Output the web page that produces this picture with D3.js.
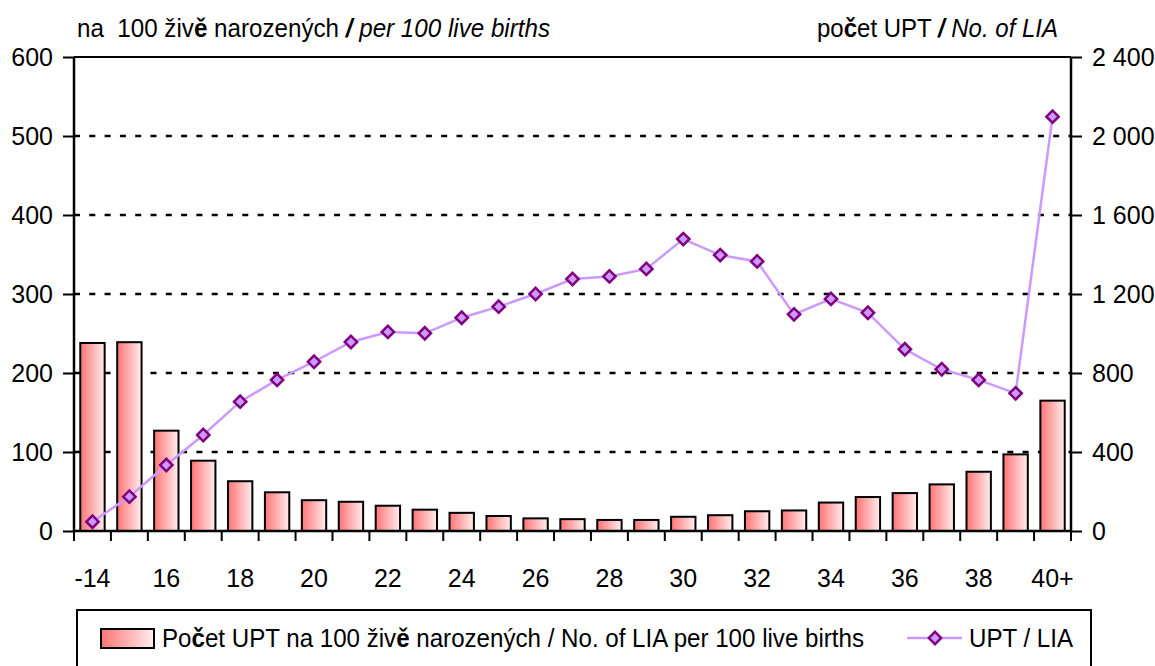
<!DOCTYPE html>
<html>
<head>
<meta charset="utf-8">
<script src="https://cdn.jsdelivr.net/npm/d3@7"></script>
<style>
  body { margin: 0; background: #fff; }
  svg { display: block; }
  text { font-family: "Liberation Sans Narrow", "Arial Narrow", "Liberation Sans", sans-serif; fill: #000; }
</style>
</head>
<body>
<svg id="chart" width="1155" height="666"></svg>
<script>
// vekove skupiny / age groups
var ages = ["-14", "15", "16", "17", "18", "19", "20", "21", "22", "23", "24", "25", "26", "27",
  "28", "29", "30", "31", "32", "33", "34", "35", "36", "37", "38", "39", "40+"];
// UPT na 100 zive narozenych / LIA per 100 live births
var perBirths = [238, 239, 127, 89, 63, 49, 39, 37, 32, 27, 23, 19, 16, 15,
  14, 14, 18, 20, 25, 26, 36, 43, 48, 59, 75, 97, 165];
// pocet UPT / No. of LIA
var counts = [47, 174, 334, 486, 655, 765, 857, 957, 1008, 1001, 1080, 1136, 1200, 1276,
  1289, 1327, 1478, 1397, 1365, 1097, 1175, 1105, 920, 819, 765, 697, 2098];
var leftTicks = [0, 100, 200, 300, 400, 500, 600];
var rightTicks = [0, 400, 800, 1200, 1600, 2000, 2400];

var svg = d3.select("#chart");
var pLeft = 74, pRight = 1071, pTop = 57, pBottom = 531;
var fs = 25;

var x = d3.scaleBand().domain(ages).range([pLeft, pRight]).paddingInner(0.34).paddingOuter(0.17);
var xb = d3.scaleLinear().domain([0, ages.length]).range([pLeft, pRight]);
var yL = d3.scaleLinear().domain([0, 600]).range([pBottom, pTop]);
var yR = d3.scaleLinear().domain([0, 2400]).range([pBottom, pTop]);

var defs = svg.append("defs");
var grad = defs.append("linearGradient").attr("id", "barGrad")
  .attr("x1", "0%").attr("x2", "100%").attr("y1", "0%").attr("y2", "0%");
grad.append("stop").attr("offset", "0%").attr("stop-color", "#ff7474");
grad.append("stop").attr("offset", "100%").attr("stop-color", "#ffeeee");

// mrizka
svg.append("g")
  .selectAll("line")
  .data(leftTicks.filter(function (d) { return d > 0 && d < 600; }))
  .join("line")
  .attr("x1", pLeft).attr("x2", pRight)
  .attr("y1", function (d) { return yL(d); }).attr("y2", function (d) { return yL(d); })
  .attr("stroke", "#000").attr("stroke-width", 2.5).attr("stroke-dasharray", "6,9.3");
svg.append("line").attr("x1", pLeft).attr("x2", pRight).attr("y1", pTop).attr("y2", pTop)
  .attr("stroke", "#000").attr("stroke-width", 2);

// sloupce
svg.append("g")
  .selectAll("rect")
  .data(perBirths)
  .join("rect")
  .attr("x", function (d, i) { return x(ages[i]); })
  .attr("width", x.bandwidth())
  .attr("y", function (d) { return yL(d); })
  .attr("height", function (d) { return pBottom - yL(d); })
  .attr("fill", "url(#barGrad)")
  .attr("stroke", "#000").attr("stroke-width", 2);

// osy
var axisL = svg.append("g").attr("transform", "translate(" + pLeft + ",0)")
  .call(d3.axisLeft(yL).tickValues(leftTicks).tickSize(11).tickPadding(10));
var axisR = svg.append("g").attr("transform", "translate(" + pRight + ",0)")
  .call(d3.axisRight(yR).tickValues(rightTicks).tickSize(11).tickPadding(10)
    .tickFormat(function (d) { return d3.format(",")(d).replace(/,/g, " "); }));
[axisL, axisR].forEach(function (a) {
  a.select(".domain").attr("stroke-width", 2.5).attr("d", "M0," + pTop + "V" + pBottom);
  a.selectAll(".tick line").attr("stroke-width", 2);
  a.selectAll(".tick text").style("font-size", fs + "px").style("font-family", null);
});

var axisB = svg.append("g").attr("transform", "translate(0," + pBottom + ")");
axisB.append("line").attr("x1", pLeft).attr("x2", pRight).attr("stroke", "#000").attr("stroke-width", 2.5);
axisB.selectAll(".bt").data(d3.range(ages.length + 1)).join("line").attr("class", "bt")
  .attr("x1", function (d) { return xb(d); }).attr("x2", function (d) { return xb(d); })
  .attr("y1", 0).attr("y2", 10).attr("stroke", "#000").attr("stroke-width", 2);
axisB.selectAll(".lab").data(ages.filter(function (d, i) { return i % 2 === 0; })).join("text")
  .attr("class", "lab")
  .attr("x", function (d) { return x(d) + x.bandwidth() / 2; })
  .attr("y", 56)
  .attr("text-anchor", "middle")
  .style("font-size", fs + "px")
  .text(function (d) { return d; });

// cara
var lineX = function (d, i) { return x(ages[i]) + x.bandwidth() / 2; };
svg.append("path")
  .datum(counts)
  .attr("fill", "none").attr("stroke", "#cc99ff").attr("stroke-width", 2.5)
  .attr("d", d3.line().x(lineX).y(function (d) { return yR(d); }));
var diamond = d3.symbol(d3.symbolSquare, 76);
svg.append("g")
  .selectAll("path")
  .data(counts)
  .join("path")
  .attr("d", diamond)
  .attr("transform", function (d, i) { return "translate(" + lineX(d, i) + "," + yR(d) + ") rotate(45)"; })
  .attr("fill", "#cc99ff").attr("stroke", "#800080").attr("stroke-width", 2.5);

// popisky os
var t1 = svg.append("text").attr("x", 77).attr("y", 37).style("font-size", fs + "px")
  .style("white-space", "pre")
  .attr("textLength", 473).attr("lengthAdjust", "spacingAndGlyphs");
t1.append("tspan").text("na  100 živ");
t1.append("tspan").attr("font-weight", "bold").text("ě");
t1.append("tspan").text(" narozených ");
t1.append("tspan").attr("font-weight", "bold").attr("font-style", "italic").text("/");
t1.append("tspan").attr("font-style", "italic").text(" per 100 live births");

var t2 = svg.append("text").attr("x", 817).attr("y", 37).style("font-size", fs + "px")
  .attr("textLength", 241).attr("lengthAdjust", "spacingAndGlyphs");
t2.append("tspan").text("po");
t2.append("tspan").attr("font-weight", "bold").text("č");
t2.append("tspan").text("et UPT ");
t2.append("tspan").attr("font-weight", "bold").attr("font-style", "italic").text("/");
t2.append("tspan").attr("font-style", "italic").text(" No. of LIA");

// legenda
var lg = svg.append("g");
lg.append("rect").attr("x", 77).attr("y", 610).attr("width", 1014).attr("height", 80)
  .attr("fill", "#fff").attr("stroke", "#000").attr("stroke-width", 2);
lg.append("rect").attr("x", 101).attr("y", 629).attr("width", 53).attr("height", 19)
  .attr("fill", "url(#barGrad)").attr("stroke", "#000").attr("stroke-width", 2);
var lt = lg.append("text").attr("x", 162).attr("y", 647).style("font-size", fs + "px")
  .attr("textLength", 702).attr("lengthAdjust", "spacingAndGlyphs");
lt.append("tspan").text("Po");
lt.append("tspan").attr("font-weight", "bold").text("č");
lt.append("tspan").text("et UPT na 100 živ");
lt.append("tspan").attr("font-weight", "bold").text("ě");
lt.append("tspan").text(" narozených / No. of LIA per 100 live births");
lg.append("line").attr("x1", 907).attr("x2", 962).attr("y1", 638).attr("y2", 638)
  .attr("stroke", "#cc99ff").attr("stroke-width", 2.5);
lg.append("path").attr("d", diamond).attr("transform", "translate(935,638) rotate(45)")
  .attr("fill", "#cc99ff").attr("stroke", "#800080").attr("stroke-width", 2.5);
lg.append("text").attr("x", 969).attr("y", 647).style("font-size", fs + "px")
  .attr("textLength", 104).attr("lengthAdjust", "spacingAndGlyphs").text("UPT / LIA");
</script>
</body>
</html>
